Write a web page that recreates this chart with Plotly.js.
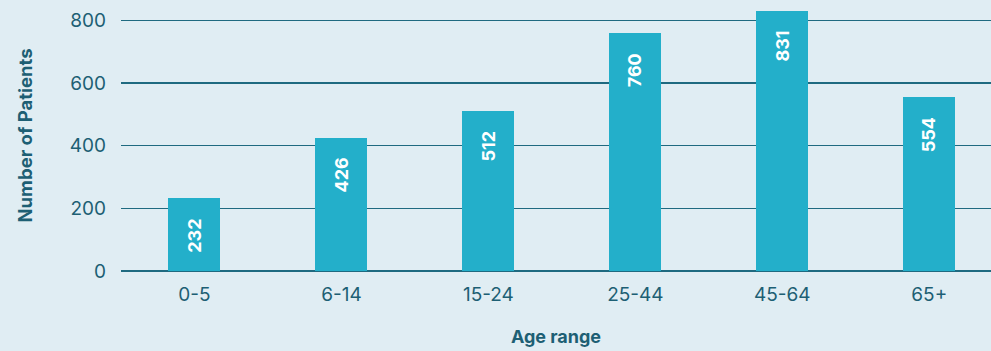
<!DOCTYPE html>
<html>
<head>
<meta charset="utf-8">
<script src="https://cdn.plot.ly/plotly-3.0.1.min.js"></script>
<style>
  html, body { margin: 0; padding: 0; background: #e0edf3; }
  #chart { width: 991px; height: 351px; }
</style>
</head>
<body>
<div id="chart"></div>
<script>
// Patients by age range
const ageRanges = ['0-5', '6-14', '15-24', '25-44', '45-64', '65+'];
const patients = [232, 426, 512, 760, 831, 554];
const yTicks = [0, 200, 400, 600, 800];

const ink = '#1d5f74';
const barColor = '#23afca';
const bg = '#e0edf3';
const font = 'Inter, "Open Sans", "Noto Sans", sans-serif';

const trace = {
  type: 'bar',
  x: ageRanges,
  y: patients,
  width: 0.354,
  marker: { color: barColor, line: { width: 0 } },
  hoverinfo: 'x+y'
};

// Value labels, rotated and tucked inside the top of each bar
const annotations = ageRanges.map((c, i) => ({
  x: c,
  y: patients[i],
  xref: 'x',
  yref: 'y',
  text: '<b>' + patients[i] + '</b>',
  showarrow: false,
  textangle: -90,
  yanchor: 'top',
  yshift: -18,
  font: { family: font, size: 18, color: '#ffffff' }
}));

const layout = {
  width: 991,
  height: 351,
  paper_bgcolor: bg,
  plot_bgcolor: bg,
  margin: { l: 120.5, r: 0, t: 0, b: 80 },
  bargap: 0,
  showlegend: false,
  font: { family: font, color: ink, size: 19 },
  xaxis: {
    type: 'category',
    range: [-0.5, 5.42],
    showgrid: false,
    zeroline: false,
    showline: false,
    ticks: '',
    ticklabelstandoff: 10,
    tickfont: { family: font, size: 19, color: ink },
    title: { text: '<b>Age range</b>', font: { family: font, size: 18, color: ink }, standoff: 25 }
  },
  yaxis: {
    range: [0, 865],
    tickvals: yTicks,
    showgrid: true,
    gridcolor: '#1f6a80',
    gridwidth: 1.3,
    zeroline: true,
    zerolinecolor: '#1f6a80',
    zerolinewidth: 1.3,
    ticks: '',
    ticklabelstandoff: 14,
    tickfont: { family: font, size: 19, color: ink },
    title: { text: '<b>Number of Patients</b>', font: { family: font, size: 18.5, color: ink }, standoff: 32 }
  },
  annotations: annotations
};

Plotly.newPlot('chart', [trace], layout, { displayModeBar: false, staticPlot: true });
</script>
</body>
</html>
